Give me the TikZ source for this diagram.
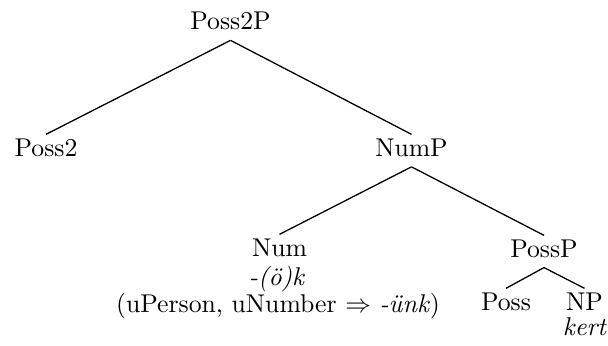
\documentclass[tikz,border=0pt]{standalone}
\begin{document}
\begin{tikzpicture}[x=0.389pt,y=-0.389pt,
  tn/.style={anchor=base,inner sep=0pt,outer sep=0pt},
  br/.style={line width=0.5pt}]
\useasboundingbox (0,0) rectangle (608,345);
\node[tn] (poss2p) at (230.5,29) {Poss2P};
\node[tn] (poss2) at (46,156) {Poss2};
\node[tn] (nump) at (411.5,156) {NumP};
\node[tn] (num) at (279.5,256) {Num};
\node[tn] (numa) at (277,285) {\textit{-(ö)k}};
\node[tn] (numb) at (278,312) {(uPerson, uNumber $\Rightarrow$ \textit{-ünk})};
\node[tn] (possp) at (544,257) {PossP};
\node[tn] (poss) at (506,310) {Poss};
\node[tn] (np) at (584.5,310) {NP};
\node[tn] (kert) at (585,335) {\textit{kert}};
\draw[br] (poss2p.south) ++(0,-4.3pt) coordinate (t1) -- ([yshift=1.6pt]poss2.north);
\draw[br] (t1) -- ([yshift=1.6pt]nump.north);
\draw[br] (nump.south) ++(0,-4.1pt) coordinate (t2) -- ([yshift=1.6pt]num.north);
\draw[br] (t2) -- ([yshift=1.6pt]possp.north);
\draw[br] (possp.south) ++(0,-4pt) coordinate (t3) -- ([yshift=1.6pt]poss.north);
\draw[br] (t3) -- ([yshift=1.6pt]np.north);
\end{tikzpicture}
\end{document}
